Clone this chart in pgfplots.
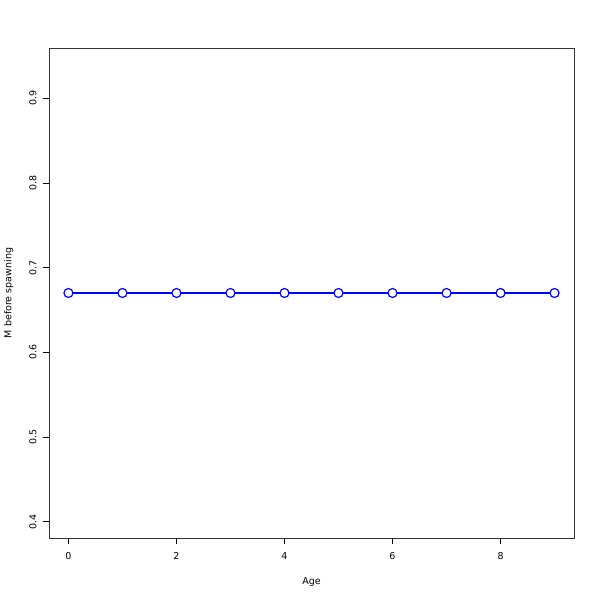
\documentclass[border=0pt]{standalone}
\usepackage{pgfplots}
\pgfplotsset{compat=1.18}
\usepackage{fontspec}
\setmainfont{DejaVu Sans}
\begin{document}
\begin{tikzpicture}[x=1pt,y=1pt]
\begin{axis}[
  name=ax,
  at={(0,0)}, anchor=south west,
  scale only axis,
  width=525pt, height=490pt,
  xmin=-0.36, xmax=9.36,
  ymin=0.3806, ymax=0.9594,
  xtick={0,2,4,6,8},
  ytick={0.4,0.5,0.6,0.7,0.8,0.9},
  yticklabel style={rotate=90, anchor=south, xshift=0pt},
  yticklabel shift=3pt,
  xticklabel shift=5pt,
  tick align=outside,
  major tick length=6pt,
  tick style={black, line width=0.6pt},
  axis line style={line width=0.6pt, draw=black!80},
  xtick pos=bottom, ytick pos=left,
  /pgf/number format/assume math mode=true,
  /pgf/number format/fixed,
  /pgf/number format/precision=1,
  /pgf/number format/fixed zerofill,
  xticklabel={\pgfmathprintnumber[fixed,precision=0,fixed zerofill=false]{\tick}},
  ticklabel style={font=\fontsize{9.5}{11}\selectfont},
  label style={font=\fontsize{9.5}{11}\selectfont},
  xlabel={Age},
  ylabel={M before spawning},
  xlabel style={yshift=-11pt},
  ylabel style={yshift=9pt},
]
\addplot[blue, line width=1.1pt, mark=*, mark size=4.5pt, mark options={fill=white, draw=blue, line width=1.2pt}]
coordinates {(0,0.67)(1,0.67)(2,0.67)(3,0.67)(4,0.67)(5,0.67)(6,0.67)(7,0.67)(8,0.67)(9,0.67)};
\end{axis}
\pgfresetboundingbox
\path[use as bounding box] ([xshift=-49pt,yshift=-62pt]ax.south west) rectangle ([xshift=26pt,yshift=48pt]ax.north east);
\end{tikzpicture}
\end{document}
